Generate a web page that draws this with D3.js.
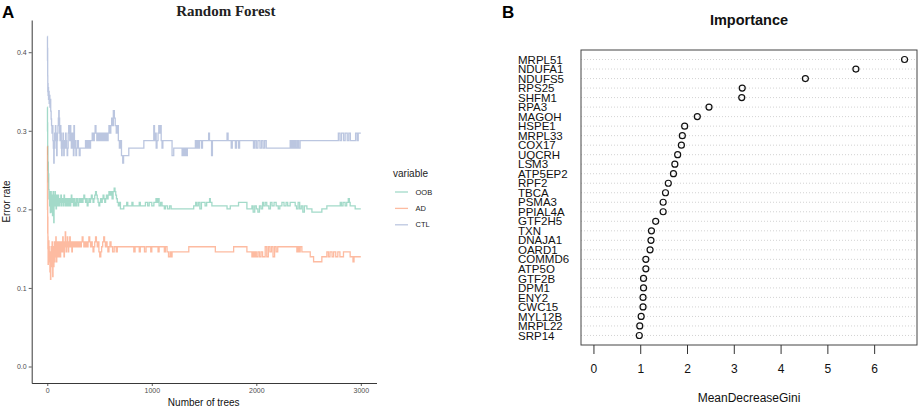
<!DOCTYPE html>
<html><head><meta charset="utf-8">
<script src="https://cdn.jsdelivr.net/npm/d3@7"></script>
<style>body{margin:0;background:#fff}svg{display:block}</style>
</head><body>
<svg id="c" width="920" height="410"></svg>
<script>
// ---------- Panel A data (ntree, error rate) step series ----------
const seriesNames = ["OOB", "AD", "CTL"];
const oobData = [[1,.33],[2,.30],[3,.31],[4,.27],[5,.28],[6,.25],[8,.26],[10,.235],[12,.245],[14,.225],[17,.2135],[20,.2225],[23,.2045],[26,.218],[29,.196],[32,.209],[35,.2225],[38,.2005],[41,.218],[44,.1965],[47,.2135],[50,.192],[53,.209],[56,.2225],[59,.2005],[62,.183],[65,.2045],[68,.218],[71,.209],[74,.2225],[77,.2045],[80,.2135],[84,.2005],[88,.218],[92,.209],[96,.2135],[100,.2045],[104,.218],[108,.209],[112,.2135],[116,.2045],[120,.2135],[125,.209],[130,.218],[135,.2045],[140,.2135],[145,.209],[150,.2135],[155,.2045],[160,.218],[165,.209],[170,.2135],[175,.2045],[180,.209],[185,.2135],[190,.2045],[195,.209],[200,.2135],[205,.2045],[210,.209],[215,.2135],[220,.2045],[225,.209],[230,.218],[235,.2135],[240,.209],[245,.2135],[250,.2045],[255,.209],[260,.2135],[265,.2045],[270,.209],[275,.2045],[280,.2135],[285,.209],[290,.2135],[295,.2045],[300,.209],[310,.2135],[318,.209],[326,.2135],[334,.209],[342,.2135],[350,.218],[358,.2135],[366,.209],[374,.2135],[382,.2045],[390,.209],[398,.2135],[406,.209],[414,.2135],[422,.218],[430,.2135],[438,.209],[446,.2135],[454,.218],[462,.2225],[470,.218],[478,.2135],[486,.209],[494,.2045],[502,.209],[510,.2135],[518,.209],[526,.2135],[534,.218],[542,.2135],[550,.209],[558,.2135],[566,.218],[574,.2135],[582,.218],[590,.2225],[600,.218],[610,.2225],[620,.2135],[630,.2225],[640,.227],[648,.2225],[655,.218],[662,.2135],[670,.209],[680,.2045],[690,.209],[700,.2005],[732,.2045],[760,.209],[770,.2045],[800,.2045],[810,.209],[820,.2045],[880,.209],[890,.2045],[939,.209],[960,.2045],[975,.209],[1000,.2045],[1020,.209],[1040,.2135],[1050,.209],[1060,.2135],[1070,.2045],[1085,.209],[1098,.2045],[1120,.2005],[1130,.2045],[1150,.2005],[1170,.2045],[1185,.2005],[1401,.2045],[1420,.209],[1430,.2045],[1445,.209],[1460,.2005],[1475,.209],[1510,.2045],[1525,.209],[1553,.2135],[1560,.209],[1575,.2045],[1720,.2005],[1751,.2045],[1830,.209],[1910,.2005],[1958,.2045],[1970,.1965],[1985,.2045],[2000,.2005],[2015,.1965],[2030,.2045],[2045,.2005],[2060,.209],[2069,.2045],[2085,.209],[2100,.2045],[2120,.2005],[2135,.209],[2150,.2045],[2170,.209],[2190,.2045],[2210,.2005],[2225,.2045],[2245,.209],[2265,.2045],[2285,.209],[2300,.2045],[2324,.209],[2372,.2045],[2385,.2005],[2400,.209],[2415,.2005],[2430,.2045],[2445,.1965],[2460,.2045],[2484,.2005],[2532,.1965],[2627,.2005],[2675,.2045],[2803,.209],[2815,.2045],[2830,.209],[2850,.2045],[2865,.209],[2880,.2135],[2890,.209],[2898,.2045],[2946,.2005],[3000,.2005]];
const adData = [[1,.28],[2,.2],[3,.24],[4,.17],[5,.19],[6,.15],[7,.165],[8,.13],[10,.155],[12,.14],[14,.16],[16,.1524],[19,.1333],[22,.146],[25,.1206],[28,.1397],[31,.111],[34,.146],[37,.1524],[40,.127],[43,.1397],[46,.1587],[49,.1333],[52,.1143],[55,.146],[58,.1524],[61,.127],[64,.1397],[67,.1587],[70,.1333],[73,.146],[76,.1524],[79,.1397],[82,.1651],[85,.146],[88,.1333],[91,.1524],[94,.1397],[97,.1587],[100,.146],[104,.1524],[108,.1397],[112,.1587],[116,.146],[120,.1524],[124,.1397],[128,.1587],[132,.1524],[136,.146],[140,.1587],[144,.1524],[148,.1651],[152,.146],[156,.1524],[160,.1397],[164,.1587],[168,.1524],[172,.1714],[176,.1524],[180,.146],[184,.1587],[188,.1524],[192,.1651],[196,.1524],[200,.146],[205,.1587],[210,.1524],[215,.1651],[220,.1524],[225,.1587],[230,.1524],[235,.146],[240,.1587],[245,.1524],[250,.1587],[255,.1524],[262,.1587],[270,.1524],[278,.1587],[286,.1524],[294,.1587],[302,.1524],[310,.1587],[318,.1524],[326,.1587],[334,.1651],[342,.1587],[350,.1524],[358,.1587],[366,.1524],[374,.1587],[382,.1524],[390,.1587],[398,.1651],[406,.1587],[414,.1524],[422,.1587],[430,.1524],[438,.146],[446,.1524],[454,.1587],[462,.1651],[470,.1587],[478,.1524],[486,.1587],[494,.146],[502,.1397],[512,.146],[520,.1524],[530,.1587],[540,.1651],[548,.1587],[556,.1524],[564,.1587],[572,.1524],[580,.146],[590,.1524],[600,.1587],[610,.1524],[625,.146],[640,.1524],[660,.146],[670,.1524],[828,.146],[840,.1524],[880,.146],[890,.1524],[930,.146],[945,.1524],[990,.146],[1000,.1524],[1060,.146],[1070,.1524],[1120,.146],[1130,.1524],[1146,.146],[1160,.1397],[1175,.146],[1185,.1397],[1194,.146],[1354,.1524],[1608,.146],[1783,.1524],[1910,.146],[1958,.1397],[1968,.146],[1978,.1397],[1990,.146],[2000,.1397],[2015,.146],[2030,.1397],[2045,.146],[2060,.1397],[2085,.1524],[2100,.1397],[2115,.1524],[2130,.146],[2145,.1524],[2160,.1397],[2175,.1524],[2190,.146],[2205,.1524],[2388,.146],[2398,.1524],[2410,.146],[2420,.1524],[2436,.146],[2516,.1397],[2548,.1333],[2627,.1397],[2675,.146],[2690,.1397],[2705,.146],[2725,.1397],[2740,.146],[2760,.1397],[2780,.146],[2800,.1397],[2834,.146],[2898,.1397],[2925,.1333],[2935,.1397],[3000,.1397]];
const ctlData = [[1,.42],[2,.39],[3,.405],[4,.37],[5,.35],[6,.36],[8,.345],[10,.355],[12,.34],[15,.35],[18,.335],[21,.345],[25,.33],[29,.34],[33,.325],[37,.315],[41,.3065],[45,.297],[50,.3065],[54,.2875],[58,.278],[62,.259],[66,.278],[70,.297],[74,.2875],[78,.3065],[82,.297],[86,.278],[90,.2685],[94,.2875],[98,.297],[102,.3065],[106,.316],[110,.3255],[114,.316],[118,.297],[122,.2875],[126,.3065],[130,.297],[134,.278],[138,.2685],[142,.2875],[146,.278],[150,.297],[154,.2875],[158,.2685],[162,.278],[166,.2875],[170,.278],[175,.297],[180,.2875],[185,.278],[190,.2685],[195,.278],[200,.297],[205,.3065],[210,.297],[215,.2875],[220,.3065],[225,.297],[230,.278],[235,.2875],[240,.297],[245,.278],[250,.2685],[255,.3065],[260,.278],[268,.2875],[274,.2685],[280,.278],[290,.2875],[298,.278],[306,.2685],[314,.278],[366,.2875],[374,.278],[382,.2875],[390,.278],[398,.2875],[406,.278],[414,.2875],[430,.297],[440,.2875],[450,.297],[458,.3065],[466,.297],[474,.2875],[482,.297],[490,.2875],[498,.297],[510,.2875],[518,.297],[526,.2875],[534,.297],[542,.2875],[550,.297],[558,.2875],[566,.297],[574,.2875],[582,.297],[590,.3065],[600,.297],[608,.3065],[616,.316],[624,.3065],[632,.3255],[642,.316],[650,.3065],[660,.297],[670,.3065],[680,.2875],[690,.278],[700,.2875],[710,.2685],[722,.259],[730,.2685],[780,.278],[924,.2875],[1019,.3065],[1026,.2875],[1034,.297],[1042,.278],[1050,.2875],[1060,.297],[1067,.3065],[1075,.297],[1083,.3065],[1090,.2875],[1098,.278],[1106,.2875],[1194,.2685],[1210,.278],[1290,.2685],[1300,.278],[1310,.2685],[1320,.278],[1328,.2685],[1340,.278],[1417,.2875],[1425,.278],[1435,.2875],[1445,.278],[1455,.2875],[1475,.278],[1485,.2875],[1544,.297],[1552,.2875],[1572,.2685],[1580,.2875],[1720,.297],[1730,.2875],[1760,.278],[1770,.2875],[1800,.278],[1810,.2875],[1830,.278],[1840,.2875],[1973,.278],[1985,.2875],[2000,.278],[2015,.2875],[2035,.278],[2050,.2875],[2065,.278],[2080,.2875],[2095,.278],[2324,.2875],[2334,.278],[2346,.2875],[2358,.278],[2370,.2875],[2382,.278],[2395,.2875],[2405,.278],[2419,.2875],[2785,.297],[2800,.2875],[2815,.297],[2835,.2875],[2850,.297],[2870,.2875],[2885,.297],[2900,.2875],[2950,.297],[2965,.2875],[2975,.297],[3000,.297]];
const seriesColors = ["#66C2A5", "#FC8D62", "#8DA0CB"];
const xTicksA = [0, 1000, 2000, 3000];
const yTicksA = [0, 0.1, 0.2, 0.3, 0.4];

// ---------- Panel B data ----------
const genes = ["MRPL51","NDUFA1","NDUFS5","RPS25","SHFM1","RPA3","MAGOH","HSPE1","MRPL33","COX17","UQCRH","LSM3","ATP5EP2","RPF2","TBCA","PSMA3","PPIAL4A","GTF2H5","TXN","DNAJA1","OARD1","COMMD6","ATP5O","GTF2B","DPM1","ENY2","CWC15","MYL12B","MRPL22","SRP14"];
const gini = [6.65,5.61,4.53,3.18,3.17,2.47,2.22,1.95,1.90,1.88,1.80,1.74,1.71,1.60,1.54,1.49,1.49,1.33,1.24,1.23,1.21,1.12,1.12,1.07,1.07,1.06,1.06,1.02,0.99,0.98];
const xTicksB = [0, 1, 2, 3, 4, 5, 6];

const SANS = "'Liberation Sans', Arial, Helvetica, sans-serif";
const svg = d3.select("#c");

function expand(ext, f) { const d = (ext[1] - ext[0]) * f; return [ext[0] - d, ext[1] + d]; }

// ================= Panel A =================
const allA = [oobData, adData, ctlData];
const xA = d3.scaleLinear()
  .domain(expand([d3.min(allA, s => d3.min(s, d => d[0])), d3.max(allA, s => d3.max(s, d => d[0]))], 0.05))
  .range([31.7, 376.5]);
const yA = d3.scaleLinear()
  .domain(expand([0, d3.max(allA, s => d3.max(s, d => d[1]))], 0.05))
  .range([383, 20]);

const gA = svg.append("g");
const line = d3.line().x(d => xA(d[0])).y(d => yA(d[1])).curve(d3.curveStepAfter);
allA.forEach((s, i) => {
  gA.append("path").datum(s).attr("d", line)
    .attr("fill", "none").attr("stroke", seriesColors[i])
    .attr("stroke-opacity", 0.6).attr("stroke-width", 1.3);
});

const axA1 = gA.append("g").attr("transform", `translate(0,383)`)
  .call(d3.axisBottom(xA).tickValues(xTicksA).tickSize(3).tickPadding(2.5).tickSizeOuter(0).tickFormat(d3.format("d")));
const axA2 = gA.append("g").attr("transform", `translate(31.7,0)`)
  .call(d3.axisLeft(yA).tickValues(yTicksA).tickSize(3).tickPadding(2).tickSizeOuter(0).tickFormat(d3.format(".1f")));
[axA1, axA2].forEach(a => {
  a.select(".domain").attr("stroke", "#222").attr("stroke-width", 0.9);
  a.selectAll(".tick line").attr("stroke", "#333").attr("stroke-width", 0.8);
  a.selectAll(".tick text").attr("fill", "#4d4d4d").style("font-family", SANS).style("font-size", "7px");
});

gA.append("text").attr("x", 203.7).attr("y", 406).attr("text-anchor", "middle")
  .style("font-family", SANS).style("font-size", "10px").attr("fill", "#111").text("Number of trees");
gA.append("text").attr("transform", "translate(10,201.5) rotate(-90)").attr("text-anchor", "middle")
  .style("font-family", SANS).style("font-size", "10px").attr("fill", "#111").text("Error rate");
gA.append("text").attr("x", 225.8).attr("y", 16).attr("text-anchor", "middle")
  .style("font-family", "'Liberation Serif', 'DejaVu Serif', serif").style("font-weight", "bold")
  .style("font-size", "15px").attr("fill", "#222").text("Random Forest");
svg.append("text").attr("x", 2).attr("y", 17.5)
  .style("font-family", SANS).style("font-weight", "bold").style("font-size", "17px").attr("fill", "#000").text("A");

// legend
const leg = gA.append("g");
leg.append("text").attr("x", 393).attr("y", 177).style("font-family", SANS).style("font-size", "10px")
  .attr("fill", "#222").text("variable");
seriesNames.forEach((n, i) => {
  const yy = 192 + i * 16.4;
  leg.append("line").attr("x1", 395).attr("x2", 408).attr("y1", yy).attr("y2", yy)
    .attr("stroke", seriesColors[i]).attr("stroke-opacity", 0.6).attr("stroke-width", 1.3);
  leg.append("text").attr("x", 415.5).attr("y", yy).attr("dy", "0.35em")
    .style("font-family", SANS).style("font-size", "7.5px").attr("fill", "#222").text(n);
});

// ================= Panel B =================
const gB = svg.append("g");
const xB = d3.scaleLinear().domain(expand([0, d3.max(gini)], 0.04)).range([581, 917]);
const yB = d3.scaleLinear().domain([0, genes.length + 1]).range([345, 50]);
const rowPos = i => yB(genes.length - i);

gB.selectAll("line.grid").data(genes).join("line").attr("class", "grid")
  .attr("x1", xB.range()[0]).attr("x2", xB.range()[1])
  .attr("y1", (d, i) => rowPos(i)).attr("y2", (d, i) => rowPos(i))
  .attr("stroke", "#c8c8c8").attr("stroke-width", 0.8).attr("stroke-dasharray", "1,2");

gB.selectAll("circle").data(gini).join("circle")
  .attr("cx", d => xB(d)).attr("cy", (d, i) => rowPos(i)).attr("r", 3)
  .attr("fill", "none").attr("stroke", "#111").attr("stroke-width", 1.2);

gB.append("rect").attr("x", xB.range()[0]).attr("y", yB.range()[1])
  .attr("width", xB.range()[1] - xB.range()[0]).attr("height", yB.range()[0] - yB.range()[1])
  .attr("fill", "none").attr("stroke", "#444").attr("stroke-width", 1);

gB.selectAll("text.lab").data(genes).join("text").attr("class", "lab")
  .attr("x", 518).attr("y", (d, i) => rowPos(i)).attr("dy", "0.36em")
  .style("font-family", SANS).style("font-size", "11.5px").attr("fill", "#111").text(d => d);

const axB = gB.append("g").attr("transform", `translate(0,345)`)
  .call(d3.axisBottom(xB).tickValues(xTicksB).tickSize(9).tickPadding(10).tickFormat(d3.format("d")));
axB.select(".domain").remove();
axB.selectAll(".tick line").attr("stroke", "#333").attr("stroke-width", 1);
axB.selectAll(".tick text").attr("fill", "#111").style("font-family", SANS).style("font-size", "12px");

gB.append("text").attr("x", 749).attr("y", 402).attr("text-anchor", "middle")
  .style("font-family", SANS).style("font-size", "12px").attr("fill", "#111").text("MeanDecreaseGini");
gB.append("text").attr("x", 749).attr("y", 24.5).attr("text-anchor", "middle")
  .style("font-family", SANS).style("font-weight", "bold").style("font-size", "14.5px").attr("fill", "#111").text("Importance");
svg.append("text").attr("x", 502).attr("y", 17.5)
  .style("font-family", SANS).style("font-weight", "bold").style("font-size", "17px").attr("fill", "#000").text("B");
</script>
</body></html>
